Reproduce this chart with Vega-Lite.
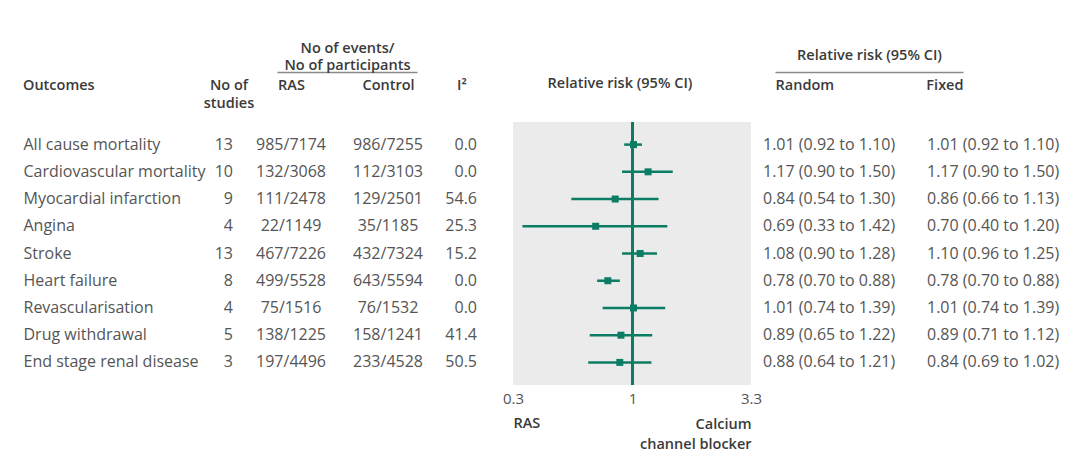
{
  "$schema": "https://vega.github.io/schema/vega-lite/v6.json",
  "background": "white",
  "padding": {"left": 23, "top": 40, "right": 4, "bottom": 10},
  "datasets": {
    "outcomes": [
      {"outcome": "All cause mortality", "studies": 13, "RAS": "985/7174", "Control": "986/7255", "i2": 0.0, "est": 1.01, "lo": 0.92, "hi": 1.10, "Random": "1.01 (0.92 to 1.10)", "Fixed": "1.01 (0.92 to 1.10)"},
      {"outcome": "Cardiovascular mortality", "studies": 10, "RAS": "132/3068", "Control": "112/3103", "i2": 0.0, "est": 1.17, "lo": 0.90, "hi": 1.50, "Random": "1.17 (0.90 to 1.50)", "Fixed": "1.17 (0.90 to 1.50)"},
      {"outcome": "Myocardial infarction", "studies": 9, "RAS": "111/2478", "Control": "129/2501", "i2": 54.6, "est": 0.84, "lo": 0.54, "hi": 1.30, "Random": "0.84 (0.54 to 1.30)", "Fixed": "0.86 (0.66 to 1.13)"},
      {"outcome": "Angina", "studies": 4, "RAS": "22/1149", "Control": "35/1185", "i2": 25.3, "est": 0.69, "lo": 0.33, "hi": 1.42, "Random": "0.69 (0.33 to 1.42)", "Fixed": "0.70 (0.40 to 1.20)"},
      {"outcome": "Stroke", "studies": 13, "RAS": "467/7226", "Control": "432/7324", "i2": 15.2, "est": 1.08, "lo": 0.90, "hi": 1.28, "Random": "1.08 (0.90 to 1.28)", "Fixed": "1.10 (0.96 to 1.25)"},
      {"outcome": "Heart failure", "studies": 8, "RAS": "499/5528", "Control": "643/5594", "i2": 0.0, "est": 0.78, "lo": 0.70, "hi": 0.88, "Random": "0.78 (0.70 to 0.88)", "Fixed": "0.78 (0.70 to 0.88)"},
      {"outcome": "Revascularisation", "studies": 4, "RAS": "75/1516", "Control": "76/1532", "i2": 0.0, "est": 1.01, "lo": 0.74, "hi": 1.39, "Random": "1.01 (0.74 to 1.39)", "Fixed": "1.01 (0.74 to 1.39)"},
      {"outcome": "Drug withdrawal", "studies": 5, "RAS": "138/1225", "Control": "158/1241", "i2": 41.4, "est": 0.89, "lo": 0.65, "hi": 1.22, "Random": "0.89 (0.65 to 1.22)", "Fixed": "0.89 (0.71 to 1.12)"},
      {"outcome": "End stage renal disease", "studies": 3, "RAS": "197/4496", "Control": "233/4528", "i2": 50.5, "est": 0.88, "lo": 0.64, "hi": 1.21, "Random": "0.88 (0.64 to 1.21)", "Fixed": "0.84 (0.69 to 1.02)"}
    ]
  },
  "config": {
    "font": "Open Sans",
    "view": {"stroke": null},
    "text": {"fontSize": 16, "color": "#555555", "font": "Open Sans"},
    "title": {"font": "Open Sans", "fontSize": 14.5, "fontWeight": 600, "color": "#3a3a3a", "frame": "group", "lineHeight": 18, "offset": 29},
    "axis": {"labelFont": "Open Sans", "titleFont": "Open Sans", "grid": false, "ticks": false, "tickSize": 0}
  },
  "bounds": "flush",
  "spacing": 205,
  "hconcat": [
    {
      "width": 1, "height": 263,
      "title": {"text": "Outcomes", "anchor": "start", "align": "left"},
      "data": {"name": "outcomes"},
      "mark": {"type": "text", "align": "left"},
      "encoding": {
        "y": {"field": "outcome", "type": "nominal", "sort": null, "scale": {"type": "point", "padding": 0.83}, "axis": null},
        "text": {"field": "outcome"}
      }
    },
    {
      "bounds": "flush",
      "spacing": 40,
      "hconcat": [
        {
          "width": 8, "height": 263,
          "title": {"text": ["No of", "studies"], "anchor": "start", "align": "center", "offset": 11},
          "data": {"name": "outcomes"},
          "mark": {"type": "text", "align": "right"},
          "encoding": {
            "y": {"field": "outcome", "type": "nominal", "sort": null, "scale": {"type": "point", "padding": 0.83}, "axis": null},
            "text": {"field": "studies"}
          }
        },
        {
          "width": 140, "height": 263,
          "data": {"name": "outcomes"},
          "transform": [{"fold": ["RAS", "Control"], "as": ["arm", "value"]}],
          "mark": {"type": "text", "align": "center"},
          "encoding": {
            "x": {"field": "arm", "type": "nominal", "sort": ["RAS", "Control"],
                  "scale": {"type": "point", "padding": 0.2216, "align": 0.326},
                  "axis": {"orient": "top", "offset": 50, "title": ["No of events/", "No of participants"], "titlePadding": 0, "titleFontSize": 14.5, "titleColor": "#3a3a3a", "titleFontWeight": 600, "titleLineHeight": 17,
                           "labelAngle": 0, "labelPadding": -20, "labelFontSize": 14.5, "labelFontWeight": 600, "labelColor": "#3a3a3a", "domainColor": "#8a8a8a", "domainWidth": 1.5}},
            "y": {"field": "outcome", "type": "nominal", "sort": null, "scale": {"type": "point", "padding": 0.83}, "axis": null},
            "text": {"field": "value"}
          }
        },
        {
          "bounds": "flush",
          "spacing": 16,
          "hconcat": [
            {
              "width": 40, "height": 263,
              "title": {"text": "I²", "anchor": "start", "align": "left"},
              "data": {"name": "outcomes"},
              "mark": {"type": "text", "align": "right"},
              "encoding": {
                "y": {"field": "outcome", "type": "nominal", "sort": null, "scale": {"type": "point", "padding": 0.83}, "axis": null},
                "text": {"field": "i2", "format": ".1f"}
              }
            },
            {
              "bounds": "flush",
              "spacing": 24,
              "hconcat": [
                {
                  "width": 238, "height": 263,
                  "view": {"fill": "#ebebeb", "stroke": null},
                  "title": {"text": "Relative risk (95% CI)", "anchor": "middle", "dx": -12},
                  "data": {"name": "outcomes"},
                  "resolve": {"axis": {"x": "independent"}},
                  "layer": [
                    {
                      "mark": {"type": "rule", "color": "#0b7d64", "strokeWidth": 2.5},
                      "encoding": {
                        "x": {"datum": 1, "type": "quantitative",
                              "scale": {"type": "log", "domain": [0.3, 3.3], "nice": false},
                              "axis": {"orient": "bottom", "labels": false, "domain": false, "title": ["Calcium", "channel blocker"], "titleAnchor": "end", "titleAlign": "right", "titlePadding": 32, "titleFontSize": 14.5, "titleFontWeight": 600, "titleColor": "#3a3a3a", "titleLineHeight": 20}}
                      }
                    },
                    {
                      "mark": {"type": "rule", "color": "#0b7d64", "strokeWidth": 2.5},
                      "encoding": {
                        "x": {"field": "lo", "type": "quantitative",
                              "axis": {"orient": "bottom", "values": [0.3, 1, 3.3], "format": "~g", "domain": false, "labelFontSize": 15, "labelColor": "#555555", "labelPadding": 6, "labelFlush": false,
                                       "title": "RAS", "titleAnchor": "start", "titleAlign": "left", "titlePadding": 10, "titleFontSize": 14.5, "titleFontWeight": 600, "titleColor": "#3a3a3a"}},
                        "x2": {"field": "hi"},
                        "y": {"field": "outcome", "type": "nominal", "sort": null, "scale": {"type": "point", "padding": 0.83}, "axis": null}
                      }
                    },
                    {
                      "mark": {"type": "square", "color": "#0b7d64", "size": 49, "opacity": 1, "filled": true},
                      "encoding": {
                        "x": {"field": "est", "type": "quantitative", "axis": null},
                        "y": {"field": "outcome", "type": "nominal", "sort": null, "axis": null}
                      }
                    }
                  ]
                },
                {
                  "width": 188, "height": 263,
                  "data": {"name": "outcomes"},
                  "transform": [{"fold": ["Random", "Fixed"], "as": ["method", "value"]}],
                  "encoding": {
                    "x": {"field": "method", "type": "nominal", "sort": ["Random", "Fixed"],
                          "scale": {"type": "point", "padding": 0},
                          "axis": {"orient": "top", "offset": 50, "title": "Relative risk (95% CI)", "titlePadding": 10, "titleFontSize": 14.5, "titleColor": "#3a3a3a", "titleFontWeight": 600,
                                   "labelAngle": 0, "labelPadding": -20, "labelFontSize": 14.5, "labelFontWeight": 600, "labelColor": "#3a3a3a",
                                   "labelAlign": {"condition": {"test": "datum.value === 'Random'", "value": "left"}, "value": "right"},
                                   "domainColor": "#8a8a8a", "domainWidth": 1.5}},
                    "y": {"field": "outcome", "type": "nominal", "sort": null, "scale": {"type": "point", "padding": 0.83}, "axis": null},
                    "text": {"field": "value"}
                  },
                  "layer": [
                    {"transform": [{"filter": "datum.method === 'Random'"}], "mark": {"type": "text", "align": "left", "dx": -12}},
                    {"transform": [{"filter": "datum.method === 'Fixed'"}], "mark": {"type": "text", "align": "left", "dx": -36}}
                  ]
                }
              ]
            }
          ]
        }
      ]
    }
  ]
}
